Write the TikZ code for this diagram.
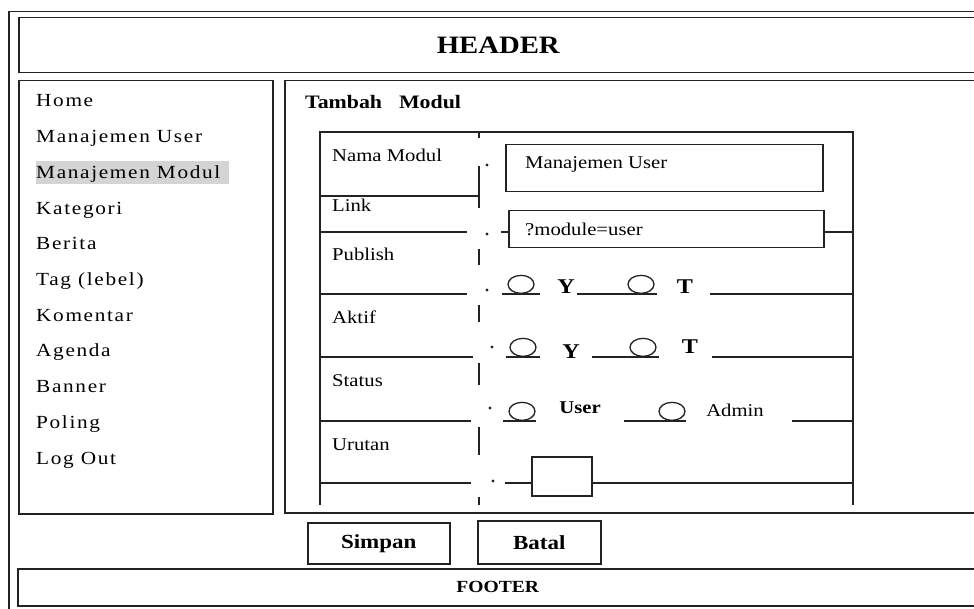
\documentclass[tikz,border=0pt]{standalone}
\usepackage{fontspec}
\setmainfont{Liberation Serif}[FakeStretch=1.15]
\newfontfamily\menufont{Liberation Serif}[FakeStretch=1.15,LetterSpace=9]
\usetikzlibrary{shapes.geometric}
\definecolor{ink}{RGB}{35,35,35}
\definecolor{hilite}{RGB}{212,212,212}

\begin{document}
\begin{tikzpicture}[
    x=1pt, y=-1pt,
    ln/.style={draw=ink, line width=1.5pt},
    box/.style={draw=ink, line width=1.5pt, inner sep=0pt, anchor=north west},
    menuitem/.style={anchor=base west, inner sep=0pt, font=\menufont\fontsize{18.5}{20}\selectfont},
    fieldname/.style={anchor=base west, inner sep=0pt, font=\fontsize{18}{20}\selectfont},
    choice/.style={anchor=base, inner sep=0pt, font=\bfseries\fontsize{21}{22}\selectfont},
    radiobtn/.style={draw=ink, ellipse, line width=1.3pt, minimum width=26pt, minimum height=18pt, inner sep=0pt, anchor=south},
    dot/.style={fill=ink}
]
\useasboundingbox (0,0) rectangle (974,609);
\clip (0,0) rectangle (974,609);

% Page frame
\node[box, minimum width=982, minimum height=614] (page) at (8,11) {};

% Header
\node[box, minimum width=959, minimum height=55, font=\bfseries\fontsize{25}{28}\selectfont] (header) at (18,17) {HEADER};

% Menu
\node[box, minimum width=254, minimum height=433] (menu) at (18,80) {};
\fill[hilite] (36,161) rectangle (229,184);
\foreach \item [count=\i from 0] in {Home, Manajemen User, Manajemen Modul, Kategori, Berita, Tag (lebel), Komentar, Agenda, Banner, Poling, Log Out}
    \node[menuitem] (m\i) at (36,107+35.7*\i) {\item};

% Content
\node[box, minimum width=693, minimum height=432] (main) at (284,80) {};
\node[anchor=base west, inner sep=0pt, font=\bfseries\fontsize{19}{21}\selectfont] (title) at (305,109) {Tambah\hspace{17pt}Modul};

% Form grid
\draw[ln] (320,505) -- (320,132) -- (853,132) -- (853,505);
\foreach \a/\b in {132/138, 166/208, 249/265, 305/322, 363/385, 427/455, 497/505}
    \draw[ln] (479,\a) -- (479,\b);

% Field names
\node[fieldname] (fNama) at (332,162) {Nama Modul};
\node[fieldname] (fLink) at (332,212) {Link};
\node[fieldname] (fPublish) at (332,261) {Publish};
\node[fieldname] (fAktif) at (332,324) {Aktif};
\node[fieldname] (fStatus) at (332,386) {Status};
\node[fieldname] (fUrutan) at (332,450) {Urutan};

% Nama Modul
\draw[ln] (320,196) -- (479,196);
\fill[dot] (487,165) circle (1.7);
\node[box, minimum width=317, minimum height=47] (inNama) at (505,144) {};
\node[fieldname] (vNama) at (525,169) {Manajemen User};

% Link
\draw[ln] (320,232) -- (467,232);
\fill[dot] (487,234) circle (1.7);
\node[box, minimum width=315, minimum height=37] (inLink) at (508,210) {};
\node[fieldname] (vLink) at (525,236) {?module=user};
\draw[ln] (501,232) -- (inLink.west |- 501,232);
\draw[ln] (inLink.east |- 0,232) -- (853,232);

% Publish
\draw[ln] (320,294) -- (467,294);
\fill[dot] (487,290) circle (1.7);
\draw[ln] (502,294) -- (540,294);
\node[radiobtn] (pubY) at (521,294) {};
\node[choice] (tPubY) at (566,294) {Y};
\draw[ln] (577,294) -- (657,294);
\node[radiobtn] (pubT) at (641,294) {};
\node[choice] (tPubT) at (685,294) {T};
\draw[ln] (710,294) -- (853,294);

% Aktif
\draw[ln] (320,357) -- (473,357);
\fill[dot] (492,347) circle (1.7);
\draw[ln] (506,357) -- (540,357);
\node[radiobtn] (aktY) at (523,357) {};
\node[choice] (tAktY) at (571,359) {Y};
\draw[ln] (592,357) -- (659,357);
\node[radiobtn] (aktT) at (643,357) {};
\node[choice] (tAktT) at (690,353) {T};
\draw[ln] (712,357) -- (853,357);

% Status
\draw[ln] (320,421) -- (471,421);
\fill[dot] (490,408) circle (1.7);
\draw[ln] (503,421) -- (536,421);
\node[radiobtn] (stUser) at (522,421) {};
\node[choice, font=\bfseries\fontsize{18}{20}\selectfont] (tUser) at (580,413) {User};
\draw[ln] (624,421) -- (686,421);
\node[radiobtn] (stAdmin) at (672,421) {};
\node[anchor=base, inner sep=0pt, font=\fontsize{18}{20}\selectfont] (tAdmin) at (735,416) {Admin};
\draw[ln] (792,421) -- (853,421);

% Urutan
\draw[ln] (320,483) -- (471,483);
\fill[dot] (493,481) circle (1.7);
\node[box, minimum width=60, minimum height=39] (inUrutan) at (531,456) {};
\draw[ln] (505,483) -- (inUrutan.west |- 0,483);
\draw[ln] (inUrutan.east |- 0,483) -- (853,483);

% Buttons
\node[box, minimum width=142, minimum height=41, font=\bfseries\fontsize{20}{22}\selectfont] (simpan) at (307,522) {Simpan};
\node[box, minimum width=123, minimum height=43, font=\bfseries\fontsize{20}{22}\selectfont] (batal) at (477,520) {Batal};

% Footer
\node[box, minimum width=960, minimum height=37, font=\bfseries\fontsize{17}{19}\selectfont] (footer) at (17,568) {FOOTER};

\end{tikzpicture}
\end{document}
